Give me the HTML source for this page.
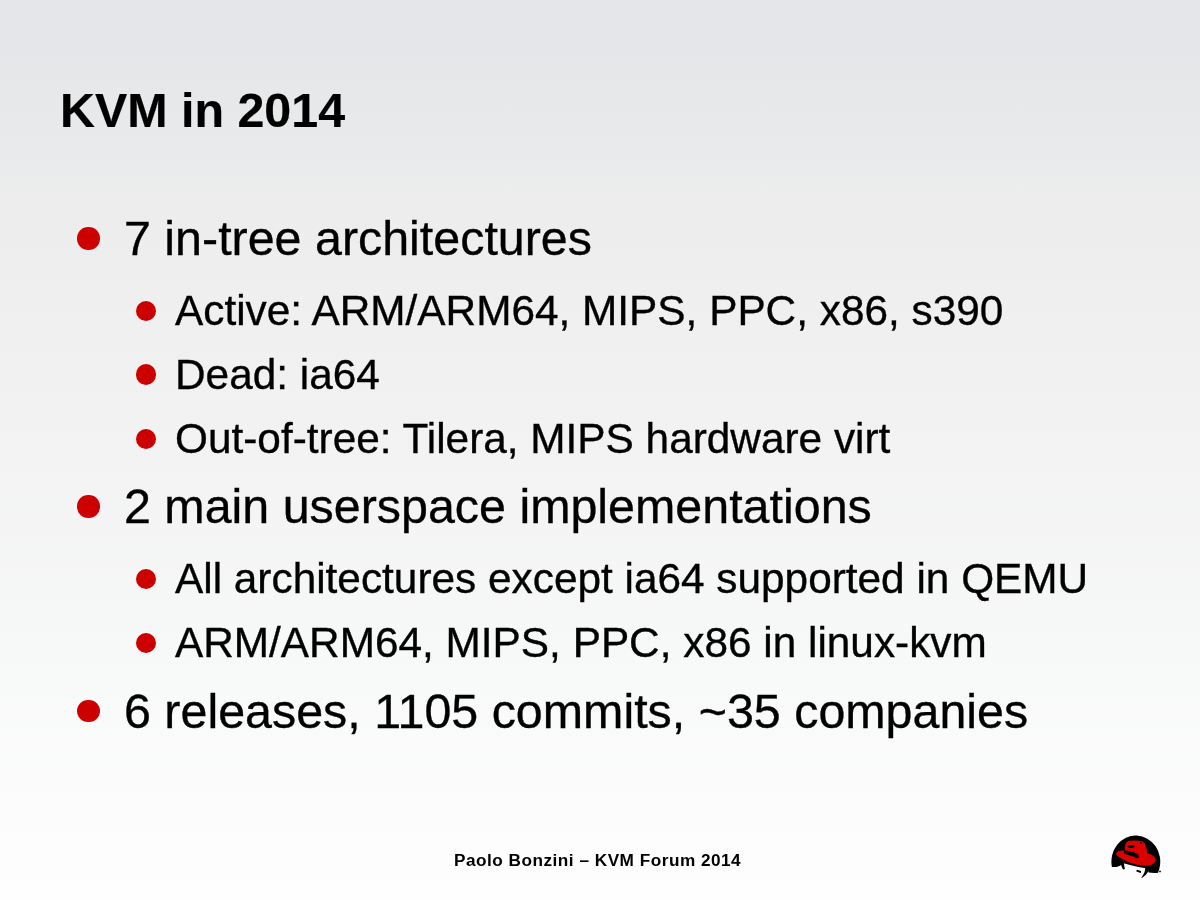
<!DOCTYPE html>
<html><head><meta charset="utf-8">
<style>
html,body{margin:0;padding:0;}
body{width:1200px;height:900px;position:relative;overflow:hidden;
background:linear-gradient(to bottom,#e4e5e8 0px,#e7e8ea 90px,#e9eaec 155px,#ebeceb 185px,#eeefee 290px,#f3f3f3 470px,#f7f8f8 650px,#fcfcfc 800px,#fefefe 900px);
font-family:"Liberation Sans",sans-serif;color:#000;}
.t{position:absolute;white-space:nowrap;line-height:1;will-change:transform;-webkit-text-stroke:0.35px #000;}
.title{font-weight:bold;font-size:48.4px;left:60px;}
.b{position:absolute;border-radius:50%;background:#cc0000;}
.foot{font-weight:bold;font-size:17.2px;left:454px;-webkit-text-stroke:0;letter-spacing:0.5px;}
</style></head><body>
<div class="t title" style="top:85.93px;-webkit-text-stroke:0.2px #000">KVM in 2014</div>
<div class="b" style="left:77.05px;top:227.45px;width:22.5px;height:22.5px"></div>
<div class="t" style="font-size:48.4px;left:124px;top:214.03px">7 in-tree architectures</div>
<div class="b" style="left:135.80px;top:300.50px;width:20.4px;height:20.4px"></div>
<div class="t" style="font-size:42.35px;left:175px;top:289.85px">Active: ARM/ARM64, MIPS, PPC, x86, s390</div>
<div class="b" style="left:135.80px;top:364.40px;width:20.4px;height:20.4px"></div>
<div class="t" style="font-size:42.35px;left:175px;top:353.75px">Dead: ia64</div>
<div class="b" style="left:135.80px;top:428.90px;width:20.4px;height:20.4px"></div>
<div class="t" style="font-size:42.35px;left:175px;top:418.25px">Out-of-tree: Tilera, MIPS hardware virt</div>
<div class="b" style="left:77.05px;top:495.45px;width:22.5px;height:22.5px"></div>
<div class="t" style="font-size:48.4px;left:124px;top:482.03px">2 main userspace implementations</div>
<div class="b" style="left:135.80px;top:568.80px;width:20.4px;height:20.4px"></div>
<div class="t" style="font-size:42.35px;left:175px;top:558.15px">All architectures except ia64 supported in QEMU</div>
<div class="b" style="left:135.80px;top:633.00px;width:20.4px;height:20.4px"></div>
<div class="t" style="font-size:42.35px;left:175px;top:622.35px">ARM/ARM64, MIPS, PPC, x86 in linux-kvm</div>
<div class="b" style="left:77.05px;top:699.95px;width:22.5px;height:22.5px"></div>
<div class="t" style="font-size:48.4px;left:124px;top:686.53px">6 releases, 1105 commits, ~35 companies</div>
<div class="t foot" style="top:852.04px">Paolo Bonzini – KVM Forum 2014</div>
<svg style="position:absolute;left:1105px;top:830px" width="60" height="50" viewBox="0 0 1080 900">
<path fill="#000" d="M124,665 A440,470 0 1 1 978,699 L955,768 C900,778 840,775 785,765 L770,700 L740,688 L600,668 L450,630 L335,598 L300,600 L280,640 L210,664 L126,668 Z"/>
<path fill="#000" d="M282,596 C290,640 305,690 330,712 L358,700 C348,665 343,630 340,596 Z"/>
<path fill="#000" d="M722,668 C732,730 700,800 652,862 C718,842 772,770 802,692 Z"/>
<path fill="#000" d="M565,748 C590,755 615,765 645,772 L650,736 C622,728 595,720 568,716 Z"/>
<circle cx="990" cy="745" r="16" fill="#000"/>
<path fill="#d90000" d="M200,420 C210,380 280,362 358,370 C350,300 358,225 420,198 C490,180 600,190 660,200 C718,220 748,300 765,420 C835,442 898,470 908,525 C912,600 842,642 742,642 C622,642 482,608 362,548 C272,503 195,465 200,420 Z"/>
<path fill="#000" d="M338,360 C430,380 540,398 595,440 C622,475 610,515 565,510 C550,490 530,482 490,472 C430,455 380,438 338,412 Z"/>
<path fill="#000" d="M408,282 C448,260 510,270 538,292 C518,328 448,330 408,308 Z"/>
<circle cx="648" cy="234" r="17" fill="#000"/>
</svg>

</body></html>
